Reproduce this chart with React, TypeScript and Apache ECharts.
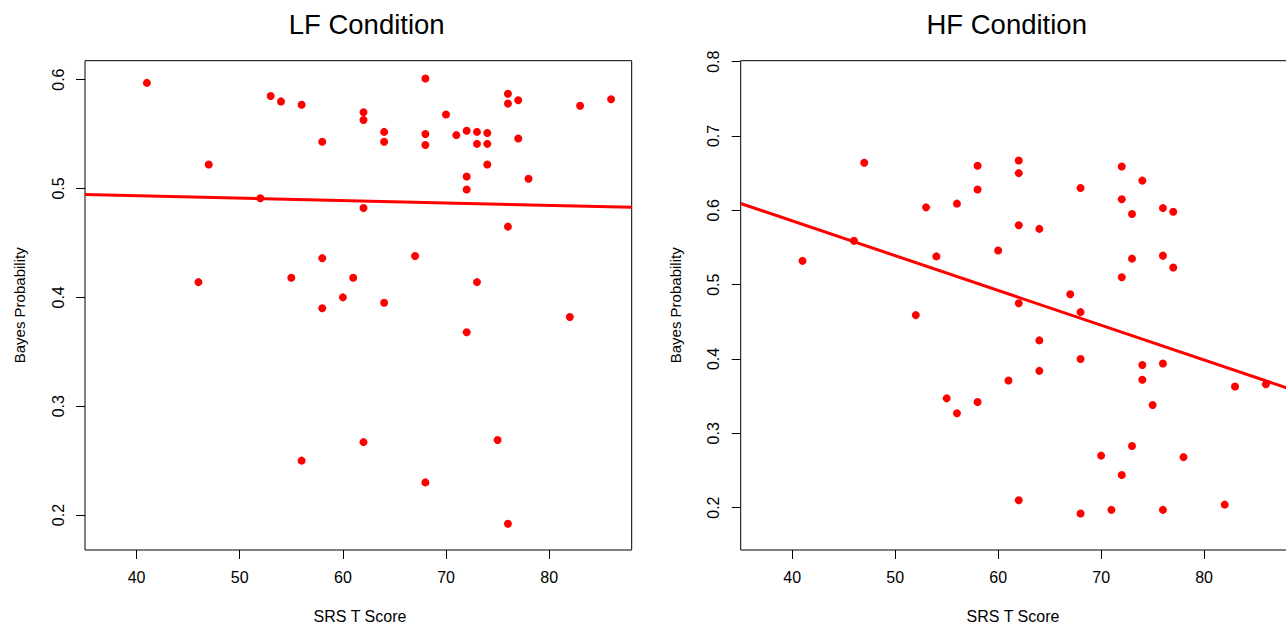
import React, { useEffect, useRef } from "react";
import * as echarts from "echarts";

// LF condition: SRS T score vs Bayes probability
const lfX = [41, 46, 47, 52, 53, 54, 55, 56, 56, 58, 58, 58, 60, 61, 62, 62, 62, 62, 64, 64, 64, 67, 68, 68, 68, 68, 70, 71, 72, 72, 72, 72, 73, 73, 73, 74, 74, 74, 75, 76, 76, 76, 76, 77, 77, 78, 82, 83, 86];
const lfY = [0.597, 0.414, 0.522, 0.491, 0.585, 0.580, 0.418, 0.577, 0.250, 0.543, 0.436, 0.390, 0.400, 0.418, 0.570, 0.563, 0.482, 0.267, 0.552, 0.543, 0.395, 0.438, 0.601, 0.550, 0.540, 0.230, 0.568, 0.549, 0.553, 0.511, 0.499, 0.368, 0.552, 0.541, 0.414, 0.551, 0.541, 0.522, 0.269, 0.587, 0.578, 0.465, 0.192, 0.581, 0.546, 0.509, 0.382, 0.576, 0.582];

// HF condition
const hfX = [41, 46, 47, 52, 53, 54, 55, 56, 56, 58, 58, 58, 60, 61, 62, 62, 62, 62, 62, 64, 64, 64, 67, 68, 68, 68, 68, 70, 71, 72, 72, 72, 72, 73, 73, 73, 74, 74, 74, 75, 76, 76, 76, 76, 77, 77, 78, 82, 83, 86];
const hfY = [0.532, 0.559, 0.664, 0.459, 0.604, 0.538, 0.347, 0.609, 0.327, 0.660, 0.628, 0.342, 0.546, 0.371, 0.667, 0.650, 0.580, 0.475, 0.210, 0.575, 0.425, 0.384, 0.487, 0.630, 0.463, 0.400, 0.192, 0.270, 0.197, 0.659, 0.615, 0.510, 0.244, 0.595, 0.535, 0.283, 0.640, 0.392, 0.372, 0.338, 0.603, 0.539, 0.394, 0.197, 0.598, 0.523, 0.268, 0.204, 0.363, 0.366];

// Fitted regression lines (endpoints at the x-axis limits)
const fitX = [35, 88];
const lfFitY = [0.4944, 0.4827];
const hfFitY = [0.6092, 0.3612];

const xTicks = [40, 50, 60, 70, 80];
const lfYTicks = [0.2, 0.3, 0.4, 0.5, 0.6];
const hfYTicks = [0.2, 0.3, 0.4, 0.5, 0.6, 0.7, 0.8];

const titles = ["LF Condition", "HF Condition"];
const xName = "SRS T Score";
const yName = "Bayes Probability";

const FONT = "'Liberation Sans', Arial, Helvetica, sans-serif";
const RED = "#ff0000";

const zip = (xs: number[], ys: number[]) => xs.map((x, i) => [x, ys[i]]);

export default function App() {
  const ref = useRef<HTMLDivElement>(null);
  useEffect(() => {
    if (!ref.current) return;
    const chart = echarts.init(ref.current, null, { renderer: "svg" });
    const W = 1300;
    const grids = [
      { left: 85, top: 60.7, right: W - 631.7, bottom: 74 },
      { left: 740.7, top: 60.7, right: W - 1286.5, bottom: 74 },
    ];
    const xAxisBase = (gi: number) => ({
      type: "value",
      gridIndex: gi,
      min: 35,
      max: 88,
      axisLine: { show: false },
      splitLine: { show: false },
      axisTick: { show: true, length: 9, customValues: xTicks, lineStyle: { color: "#000", width: 1 } },
      axisLabel: { customValues: xTicks, fontSize: 16, fontFamily: FONT, color: "#000", margin: 19 },
    });
    const yAxisBase = (gi: number, min: number, max: number, ticks: number[]) => ({
      type: "value",
      gridIndex: gi,
      min,
      max,
      axisLine: { show: false },
      splitLine: { show: false },
      axisTick: { show: true, length: 9, customValues: ticks, lineStyle: { color: "#000", width: 1 } },
      axisLabel: {
        customValues: ticks,
        rotate: 90,
        fontSize: 16,
        fontFamily: FONT,
        color: "#000",
        margin: 19,
        formatter: (v: number) => v.toFixed(1),
      },
    });
    const text = (t: string, x: number, y: number, size: number, rot = 0) => ({
      type: "text",
      x,
      y,
      rotation: rot,
      style: {
        text: t,
        fontSize: size,
        fontFamily: FONT,
        fill: "#000",
        align: "center",
        verticalAlign: "middle",
      },
    });
    const scatter = (i: number, xs: number[], ys: number[]) => ({
      type: "scatter",
      xAxisIndex: i,
      yAxisIndex: i,
      data: zip(xs, ys),
      symbol: "circle",
      symbolSize: 8,
      itemStyle: { color: RED, opacity: 1 },
    });
    const fit = (i: number, ys: number[]) => ({
      type: "line",
      xAxisIndex: i,
      yAxisIndex: i,
      data: zip(fitX, ys),
      symbol: "none",
      lineStyle: { color: RED, width: 3 },
    });
    chart.setOption({
      animation: false,
      backgroundColor: "#fff",
      grid: grids.map((g) => ({ ...g, show: true, borderColor: "#000", borderWidth: 1, backgroundColor: "transparent" })),
      xAxis: [xAxisBase(0), xAxisBase(1)],
      yAxis: [yAxisBase(0, 0.1679, 0.6174, lfYTicks), yAxisBase(1, 0.143, 0.8013, hfYTicks)],
      series: [scatter(0, lfX, lfY), fit(0, lfFitY), scatter(1, hfX, hfY), fit(1, hfFitY)],
      graphic: [
        text(titles[0], 366.7, 24.5, 27.5),
        text(titles[1], 1006.7, 24.5, 27.5),
        text(xName, 360, 616, 16),
        text(xName, 1013, 616, 16),
        text(yName, 19.7, 305.3, 15, Math.PI / 2),
        text(yName, 675.4, 305.3, 15, Math.PI / 2),
      ],
    });
    return () => chart.dispose();
  }, []);
  return (
    <div style={{ position: "fixed", left: 0, top: 0, width: 1286, height: 624, overflow: "hidden", background: "#fff" }}>
      <div ref={ref} style={{ width: 1300, height: 624 }} />
    </div>
  );
}
